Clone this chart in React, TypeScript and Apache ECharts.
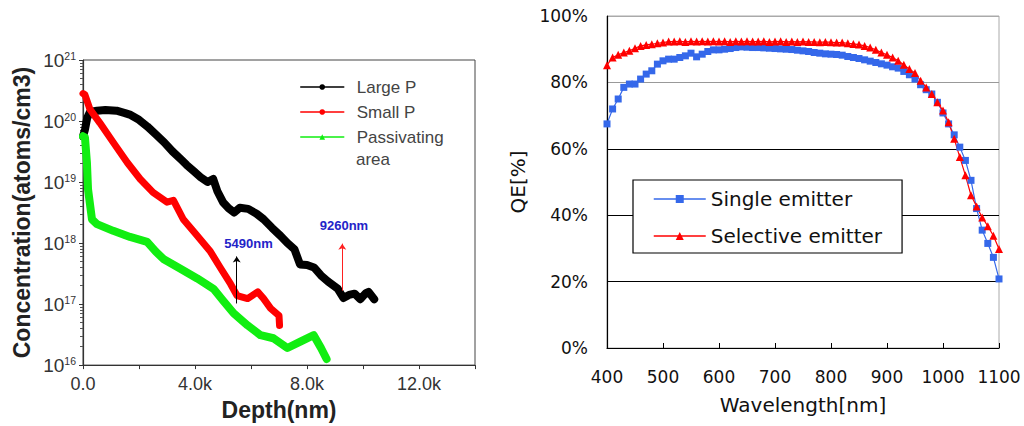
import React, { useEffect, useRef } from 'react';
import * as echarts from 'echarts';

// ---------- Left panel: doping profiles (depth in nm, log10 concentration) ----------
const largePDepth = [0, 70, 150, 250, 500, 800, 1200, 1500, 1700, 2000, 2300, 2600, 2900, 3200, 3500, 3700, 3950, 4200, 4450, 4650, 4800, 5000, 5200, 5400, 5600, 5900, 6200, 6450, 6750, 7050, 7300, 7550, 7750, 8000, 8250, 8500, 8750, 9100, 9300, 9500, 9700, 9900, 10100, 10200, 10400];
const largePLog = [19.75, 19.86, 20.05, 20.15, 20.17, 20.18, 20.17, 20.13, 20.1, 20.02, 19.91, 19.78, 19.65, 19.5, 19.37, 19.28, 19.18, 19.08, 19.0, 19.05, 18.85, 18.67, 18.57, 18.5, 18.58, 18.56, 18.48, 18.39, 18.25, 18.12, 18.0, 17.9, 17.65, 17.64, 17.6, 17.47, 17.37, 17.25, 17.1, 17.15, 17.17, 17.08, 17.18, 17.2, 17.08];

const smallPDepth = [0, 70, 250, 600, 1080, 1580, 2040, 2500, 3000, 3230, 3580, 4080, 4550, 4900, 5270, 5500, 5880, 6240, 6450, 6700, 7000, 7020];
const smallPLog = [20.45, 20.43, 20.19, 19.97, 19.65, 19.32, 19.05, 18.83, 18.67, 18.7, 18.39, 18.12, 17.86, 17.6, 17.33, 17.14, 17.09, 17.2, 17.09, 16.93, 16.81, 16.65];

const passDepth = [0, 70, 140, 180, 320, 500, 1080, 1680, 2290, 2600, 2870, 3480, 4080, 4660, 5000, 5380, 5880, 6340, 6800, 7300, 7780, 8240, 8500, 8700];
const passLog = [19.75, 19.73, 19.32, 18.88, 18.39, 18.31, 18.2, 18.1, 18.02, 17.86, 17.74, 17.58, 17.42, 17.25, 17.06, 16.85, 16.65, 16.49, 16.44, 16.28, 16.39, 16.49, 16.28, 16.1];

const depthTickLabels: Record<number, string> = { 0: '0.0', 4000: '4.0k', 8000: '8.0k', 12000: '12.0k' };

// annotations: [depth, log10 bottom, log10 top]
const arrow5490 = [5490, 17.01, 17.78];
const arrow9260 = [9260, 17.22, 17.99];
const label5490 = [5910, 17.99];
const label9260 = [9320, 18.28];

// ---------- Right panel: quantum efficiency ----------
const wavelengths = [400, 410, 420, 430, 440, 450, 460, 470, 480, 490, 500, 510, 520, 530, 540, 550, 560, 570, 580, 590, 600, 610, 620, 630, 640, 650, 660, 670, 680, 690, 700, 710, 720, 730, 740, 750, 760, 770, 780, 790, 800, 810, 820, 830, 840, 850, 860, 870, 880, 890, 900, 910, 920, 930, 940, 950, 960, 970, 980, 990, 1000, 1010, 1020, 1030, 1040, 1050, 1060, 1070, 1080, 1090, 1100];
const singleQE = [67.5, 72, 75, 78.5, 79.5, 79.5, 81, 82.5, 83.5, 85.5, 86.5, 87, 87, 87.5, 88, 88.8, 87.7, 88.5, 89.3, 89.8, 89.8, 90, 90.2, 90.5, 90.7, 90.6, 90.5, 90.5, 90.4, 90.3, 90.2, 90.1, 90, 89.9, 89.7, 89.5, 89.3, 89, 88.8, 88.6, 88.5, 88.4, 88.2, 87.8, 87.5, 87.2, 86.8, 86.4, 86, 85.6, 85.2, 84.7, 84.3, 83.3, 82.3, 81, 79.3, 77.8, 76.5, 74, 70.8, 67.5, 64.2, 60.5, 56.5, 50.5, 42, 35.5, 31.5, 27.3, 20.8];
const selectiveQE = [85.2, 87.5, 88.3, 89, 89.5, 90.3, 91, 91.3, 91.5, 91.8, 92, 92.3, 92.3, 92.4, 92.2, 92.4, 92.3, 92.4, 92.3, 92.4, 92.3, 92.4, 92.2, 92.4, 92.3, 92.4, 92.3, 92.3, 92.4, 92.2, 92.3, 92.4, 92.2, 92.3, 92.2, 92.3, 92.2, 92.2, 92.1, 92.2, 92.1, 92, 92, 91.8, 91.6, 91.4, 91, 90.5, 89.8, 89, 88.3, 87.5, 86.5, 85.3, 84, 82.8, 80.5, 78.5, 76.5, 74, 71.5, 68, 63, 57.5, 52, 46, 42.6, 39.3, 36.7, 33.8, 29.8];

const zip = (xs: number[], ys: number[], f: (v: number) => number = (v) => v) => xs.map((x, i) => [x, f(ys[i])]);
const pow10 = (v: number) => Math.pow(10, v);

export default function App() {
  const ref = useRef<HTMLDivElement>(null);
  useEffect(() => {
    document.body.style.margin = '0';
    const chart = echarts.init(ref.current!, undefined, { renderer: 'svg' });
    const sans = 'Liberation Sans, Arial, sans-serif';
    const dj = 'DejaVu Sans, sans-serif';
    chart.setOption({
      animation: false,
      backgroundColor: '#fff',
      grid: [
        { left: 83, top: 60, width: 392, height: 307, show: true, borderColor: '#444', borderWidth: 1 },
        { left: 607, top: 16, width: 392, height: 332, show: true, borderColor: '#aaa', borderWidth: 1 },
      ],
      xAxis: [
        {
          gridIndex: 0, type: 'value', min: 0, max: 14000, interval: 2000,
          name: 'Depth(nm)', nameLocation: 'middle', nameGap: 32,
          nameTextStyle: { fontFamily: sans, fontWeight: 'bold', fontSize: 23, color: '#222' },
          axisLine: { lineStyle: { color: '#333', width: 1.2 } },
          axisTick: { show: true, length: 4, lineStyle: { color: '#333' } },
          axisLabel: { fontFamily: sans, fontSize: 18, color: '#333', margin: 10, formatter: (v: number) => depthTickLabels[v] ?? '' },
          splitLine: { show: false },
        },
        {
          gridIndex: 1, type: 'value', min: 400, max: 1100, interval: 100,
          name: 'Wavelength[nm]', nameLocation: 'middle', nameGap: 47,
          nameTextStyle: { fontFamily: dj, fontSize: 20, color: '#111' },
          axisLine: { lineStyle: { color: '#000', width: 1.2 } },
          axisTick: { show: true, inside: true, length: 5, lineStyle: { color: '#000' } },
          axisLabel: { fontFamily: dj, fontSize: 17, color: '#111', margin: 20, formatter: (v: number) => String(v) },
          splitLine: { show: false },
        },
      ],
      yAxis: [
        {
          gridIndex: 0, type: 'log', min: 1e16, max: 1e21, logBase: 10,
          name: 'Concentration(atoms/cm3)', nameLocation: 'middle', nameGap: 50,
          nameTextStyle: { fontFamily: sans, fontWeight: 'bold', fontSize: 23, color: '#222' },
          axisLine: { show: true, lineStyle: { color: '#333', width: 1.2 } },
          axisTick: { show: true, length: 4, lineStyle: { color: '#333' } },
          minorTick: { show: true, splitNumber: 9, length: 3, lineStyle: { color: '#555' } },
          axisLabel: {
            margin: 7,
            formatter: (v: number) => `{b|10}{s|${Math.round(Math.log10(v))}}`,
            rich: {
              b: { fontFamily: sans, fontSize: 19, color: '#333' },
              s: { fontFamily: sans, fontSize: 10.5, color: '#333', verticalAlign: 'top' },
            },
          },
          splitLine: { show: false },
        },
        {
          gridIndex: 1, type: 'value', min: 0, max: 100, interval: 20,
          name: 'QE[%]', nameLocation: 'middle', nameGap: 79,
          nameTextStyle: { fontFamily: dj, fontSize: 20, color: '#111' },
          axisLine: { show: true, lineStyle: { color: '#000', width: 1.2 } },
          axisTick: { show: false },
          axisLabel: { fontFamily: dj, fontSize: 17, color: '#111', margin: 19, formatter: '{value}%' },
          splitLine: { show: true, lineStyle: { color: ['#000', '#000', '#000', '#000', '#999', '#aaa'], width: 1.2 } },
        },
      ],
      legend: [
        {
          left: 300, top: 76, orient: 'vertical', padding: 0,
          itemWidth: 43, itemHeight: 7, itemGap: 3,
          textStyle: { fontFamily: sans, fontSize: 17, color: '#444', lineHeight: 22, padding: [0, 0, 0, 8] },
          lineStyle: { width: 1.5 },
          data: ['Large P', 'Small P', 'Passivating area'],
          formatter: (n: string) => (n === 'Passivating area' ? 'Passivating' : n),
        },
        {
          left: 633, top: 180, orient: 'vertical',
          padding: [8, 20, 6, 20],
          backgroundColor: '#fff', borderColor: '#000', borderWidth: 1.2,
          itemWidth: 52, itemHeight: 10, itemGap: 15,
          textStyle: { fontFamily: dj, fontSize: 20, color: '#111', lineHeight: 22 },
          lineStyle: { width: 1.5 },
          data: ['Single emitter', 'Selective emitter'],
        },
      ],
      graphic: [
        { type: 'text', left: 356, top: 151, style: { text: 'area', fontFamily: sans, fontSize: 17, fill: '#444' } },
      ],
      series: [
        {
          name: 'Large P', type: 'line', xAxisIndex: 0, yAxisIndex: 0,
          data: zip(largePDepth, largePLog, pow10), showSymbol: false, symbol: 'circle',
          color: '#000', lineStyle: { width: 8, join: 'round', cap: 'round' },
          markLine: {
            silent: true, symbol: ['none', 'arrow'], symbolSize: 6, label: { show: false },
            data: [
              [
                { coord: [arrow5490[0], pow10(arrow5490[1])], lineStyle: { color: '#000', width: 1, type: 'solid' } },
                { coord: [arrow5490[0], pow10(arrow5490[2])] },
              ],
              [
                { coord: [arrow9260[0], pow10(arrow9260[1])], lineStyle: { color: '#ff2020', width: 1, type: 'solid' } },
                { coord: [arrow9260[0], pow10(arrow9260[2])] },
              ],
            ],
          },
          markPoint: {
            symbol: 'circle', symbolSize: 1, itemStyle: { color: 'rgba(0,0,0,0)' },
            label: { show: true, position: 'inside', formatter: '{b}', fontFamily: sans, fontWeight: 'bold', fontSize: 13, color: '#2323c8' },
            data: [
              { name: '5490nm', coord: [label5490[0], pow10(label5490[1])] },
              { name: '9260nm', coord: [label9260[0], pow10(label9260[1])] },
            ],
          },
        },
        {
          name: 'Small P', type: 'line', xAxisIndex: 0, yAxisIndex: 0,
          data: zip(smallPDepth, smallPLog, pow10), showSymbol: false, symbol: 'circle',
          color: '#ff0000', lineStyle: { width: 7, join: 'round', cap: 'round' },
        },
        {
          name: 'Passivating area', type: 'line', xAxisIndex: 0, yAxisIndex: 0,
          data: zip(passDepth, passLog, pow10), showSymbol: false, symbol: 'triangle',
          color: '#11ee11', lineStyle: { width: 8, join: 'round', cap: 'round' },
        },
        {
          name: 'Single emitter', type: 'line', xAxisIndex: 1, yAxisIndex: 1,
          data: zip(wavelengths, singleQE), symbol: 'rect', symbolSize: 7,
          color: '#3568ea', lineStyle: { width: 1.2 },
        },
        {
          name: 'Selective emitter', type: 'line', xAxisIndex: 1, yAxisIndex: 1,
          data: zip(wavelengths, selectiveQE), symbol: 'triangle', symbolSize: 8,
          color: '#ff0000', lineStyle: { width: 1.2 },
        },
      ],
    });
    return () => chart.dispose();
  }, []);
  return <div ref={ref} style={{ position: 'fixed', left: 0, top: 0, width: 1024, height: 426, background: '#fff' }} />;
}
